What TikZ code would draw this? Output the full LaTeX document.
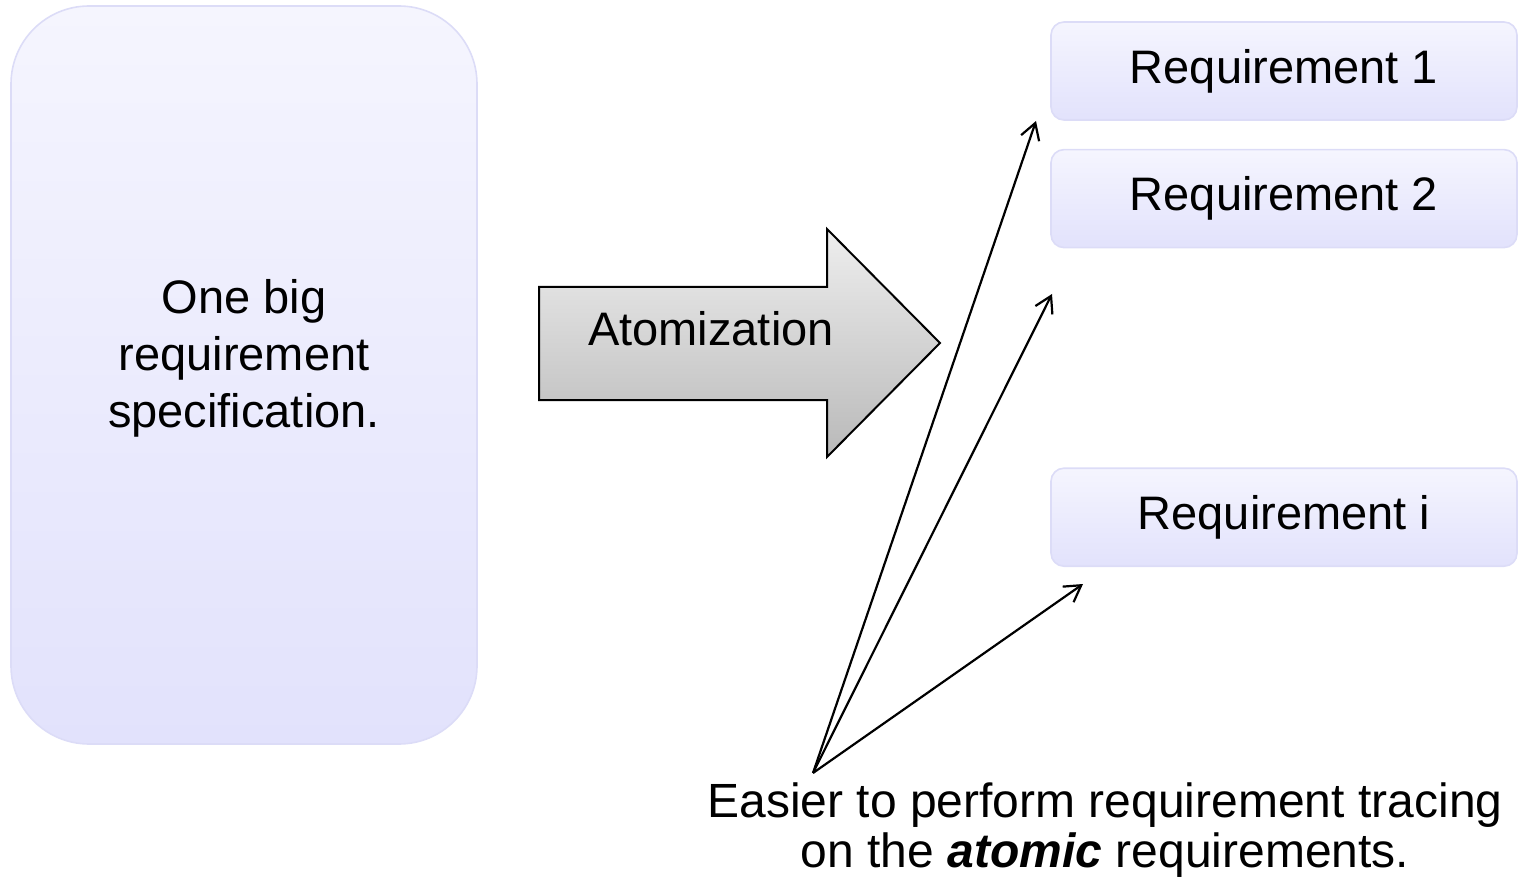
\documentclass[tikz,border=0pt]{standalone}
\usepackage{fontspec}
\setmainfont{Liberation Sans}
\usetikzlibrary{positioning,arrows.meta}

\definecolor{boxtop}{HTML}{F5F5FE}
\definecolor{boxbottom}{HTML}{E2E2FC}
\definecolor{boxline}{HTML}{DCDCF7}
\definecolor{arrowtop}{HTML}{EEEEEE}
\definecolor{arrowbottom}{HTML}{B9B9B9}

\begin{document}
\begin{tikzpicture}[x=0.5pt, y=-0.5pt,
    bigfont/.style={font=\fontsize{23.5}{28.5}\selectfont},
    specbox/.style={draw=boxline, line width=0.8pt, top color=boxtop, bottom color=boxbottom,
        rounded corners=39pt, minimum width=233pt, minimum height=369pt},
    reqbox/.style={draw=boxline, line width=0.8pt, top color=boxtop, bottom color=boxbottom,
        rounded corners=6.5pt, minimum width=233pt, minimum height=49pt, bigfont},
    trace/.style={line width=1.1pt, -{Straight Barb[length=8pt,width=9.5pt]}}]
    \useasboundingbox (0,0) rectangle (1523,883);

    \node (spec) [specbox] at (244,375) {};
    \node (spectext) [align=center, bigfont] at ([yshift=8.5pt]spec.center) {One big\\requirement\\specification.};

    % big shaded arrow
    \path [draw=black, line width=1pt, top color=arrowtop, bottom color=arrowbottom]
        (539,287) -- (827,287) -- (827,229) -- (940,343) -- (827,457) -- (827,400) -- (539,400) -- cycle;
    \node (atom) [anchor=base, bigfont] at (711,345) {Atomization};

    \node (req1) [reqbox] at (1284,71) {Requirement 1};
    \node (req2) [reqbox, below=14pt of req1] {Requirement 2};
    \node (reqi) [reqbox, below=109.5pt of req2] {Requirement i};

    \node (note) [align=center, font=\fontsize{24}{25}\selectfont] at (1105,830)
        {Easier to perform requirement tracing\\on the \textbf{\textit{atomic}} requirements.};

    \coordinate (src) at (813,773);
    \coordinate (to1) at (1036,121);
    \coordinate (to2) at (1052,294);
    \coordinate (to3) at (1083,584);

    \draw [trace] (src) -- (to1);
    \draw [trace] (src) -- (to2);
    \draw [trace] (src) -- (to3);
\end{tikzpicture}
\end{document}
